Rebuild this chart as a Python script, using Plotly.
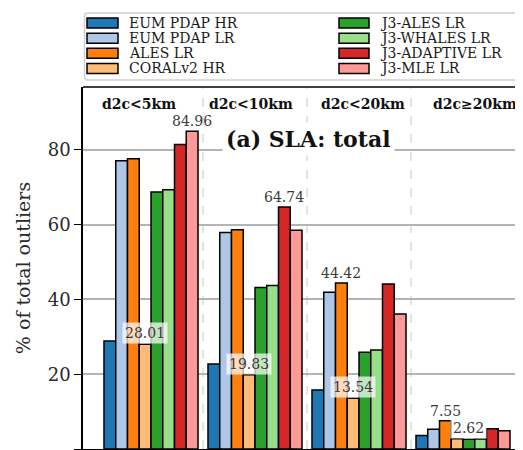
import plotly.graph_objects as go

# ---------------- data ----------------
groups = ["d2c<5km", "d2c<10km", "d2c<20km", "d2c≥20km"]
series_names = ["EUM PDAP HR", "EUM PDAP LR", "ALES LR", "CORALv2 HR",
                "J3-ALES LR", "J3-WHALES LR", "J3-ADAPTIVE LR", "J3-MLE LR"]
colors = ["#1f77b4", "#aec7e8", "#ff7f0e", "#ffbb78",
          "#2ca02c", "#98df8a", "#d62728", "#ff9896"]
eum_pdap_hr = [28.9, 22.7, 15.8, 3.6]
eum_pdap_lr = [77.1, 57.9, 41.9, 5.3]
ales_lr = [77.6, 58.6, 44.42, 7.55]
coralv2_hr = [28.01, 19.83, 13.54, 2.75]
j3_ales_lr = [68.7, 43.2, 25.9, 2.62]
j3_whales_lr = [69.3, 43.7, 26.5, 2.7]
j3_adaptive_lr = [81.4, 64.74, 44.1, 5.4]
j3_mle_lr = [84.96, 58.5, 36.1, 4.9]
series_values = [eum_pdap_hr, eum_pdap_lr, ales_lr, coralv2_hr,
                 j3_ales_lr, j3_whales_lr, j3_adaptive_lr, j3_mle_lr]
y_ticks = [0, 20, 40, 60, 80]
title_text = "(a) SLA: total"
y_title = "% of total outliers"

# ---------------- geometry ----------------
OFF = 8  # page body margin
W, H = 523, 450
L, R, T, B = 75, 0, 79, 9
PW, PH = W - L - R, H - T - B
BARGAP = 0.096
YMAX = 96.8
XMIN = -0.6538
XMAX = 3.0 - XMIN
FONT = "DejaVu Serif"

def px_x(p):
    return (p - OFF - L) / PW

def px_y(p):
    return (H - B - (p - OFF)) / PH

x_idx = list(range(len(groups)))

fig = go.Figure()
for name, vals, col in zip(series_names, series_values, colors):
    fig.add_trace(go.Bar(
        x=x_idx, y=vals, name=name, marker=dict(color=col, line=dict(color="black", width=1.5)),
        showlegend=False, hoverinfo="name+y"))

shapes = []
annotations = []

# group separators
for g in x_idx[:-1]:
    shapes.append(dict(type="line", xref="x", yref="paper", x0=g + 0.5, x1=g + 0.5, y0=0, y1=1,
                       line=dict(color="#c8c8c8", width=1, dash="dash"), layer="below"))
# top frame
shapes.append(dict(type="line", xref="paper", yref="paper", x0=0, x1=1, y0=1, y1=1,
                   line=dict(color="black", width=1.5)))

# group labels
for k, g in enumerate(groups):
    f = (2 * k + 1) / (2 * len(groups))
    annotations.append(dict(x=XMIN + f * (XMAX - XMIN), y=px_y(104), xref="x", yref="paper",
                            text="<b>%s</b>" % g.replace("<", "&lt;"), showarrow=False,
                            font=dict(family=FONT, size=14, color="#111"), xanchor="center", yanchor="middle"))

# value labels (max and min of each group)
nser = len(series_names)
bw = (1 - BARGAP) / nser
for g in x_idx:
    vals = [s[g] for s in series_values]
    imax = vals.index(max(vals))
    imin = vals.index(min(vals))
    for i, boxed in ((imax, False), (imin, True)):
        xb = g + (i - (nser - 1) / 2) * bw
        annotations.append(dict(x=xb, y=vals[i], xref="x", yref="y", text="%.2f" % vals[i],
                                showarrow=False, xanchor="center", yanchor="bottom",
                                font=dict(family=FONT, size=14, color="#3a3a3a"),
                                bgcolor="rgba(255,255,255,0.72)" if boxed else None,
                                borderpad=2 if boxed else 1))

# panel title
annotations.append(dict(x=px_x(308), y=px_y(139), xref="paper", yref="paper", text="<b>%s</b>" % title_text,
                        showarrow=False, xanchor="center", yanchor="middle",
                        font=dict(family=FONT, size=22, color="#111"), bgcolor="white", borderpad=3))

# legend (manual, two columns)
lx0, ly0, lx1, ly1, rad = 84.5, 13, 560, 80, 3
path = ("M %f,%f L %f,%f L %f,%f Q %f,%f %f,%f L %f,%f Q %f,%f %f,%f L %f,%f Z" % (
    px_x(lx1), px_y(ly0), px_x(lx1), px_y(ly1), px_x(lx0 + rad), px_y(ly1),
    px_x(lx0), px_y(ly1), px_x(lx0), px_y(ly1 - rad), px_x(lx0), px_y(ly0 + rad),
    px_x(lx0), px_y(ly0), px_x(lx0 + rad), px_y(ly0), px_x(lx1), px_y(ly0)))
shapes.append(dict(type="path", xref="paper", yref="paper", path=path,
                   line=dict(color="#d0d0d0", width=1.5), fillcolor="white"))
col_sw = [(87, 118, 127), (339, 369, 377.5)]
row_y = [23, 38.2, 53.2, 68.5]
for i, (name, col) in enumerate(zip(series_names, colors)):
    c, r = divmod(i, 4)
    sx0, sx1, tx = col_sw[c]
    yc = row_y[r]
    shapes.append(dict(type="rect", xref="paper", yref="paper", x0=px_x(sx0), x1=px_x(sx1),
                       y0=px_y(yc + 5), y1=px_y(yc - 5), fillcolor=col, line=dict(color="black", width=1.5)))
    annotations.append(dict(x=px_x(tx), y=px_y(yc), xref="paper", yref="paper", text=name, showarrow=False,
                            xanchor="left", yanchor="middle", font=dict(family=FONT, size=14, color="#1a1a1a")))

fig.update_layout(
    width=W, height=H, margin=dict(l=L, r=R, t=T, b=B, pad=0),
    paper_bgcolor="white", plot_bgcolor="white",
    barmode="group", bargap=BARGAP, bargroupgap=0,
    shapes=shapes, annotations=annotations, showlegend=False,
    font=dict(family=FONT, color="#222"),
    xaxis=dict(range=[XMIN, XMAX], showticklabels=False, ticks="", showgrid=False, zeroline=False,
               showline=True, linecolor="black", linewidth=1.5),
    yaxis=dict(range=[0, YMAX], tickvals=y_ticks, ticks="outside", ticklen=7, tickwidth=1.2,
               tickcolor="black", showline=True, linecolor="black", linewidth=1.5,
               showgrid=True, gridcolor="#b4b4b4", gridwidth=1.5, zeroline=False,
               tickfont=dict(family=FONT, size=18, color="#2a2a2a"),
               title=dict(text=y_title, font=dict(family=FONT, size=19, color="#2a2a2a"), standoff=12)),
)

fig.write_html("out.html")
